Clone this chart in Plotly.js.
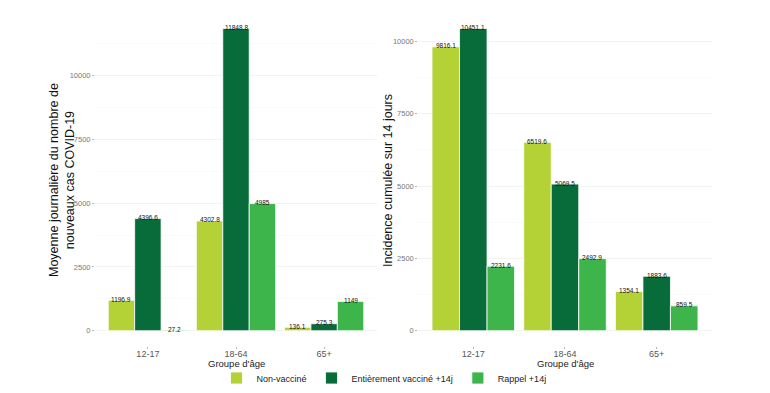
<!DOCTYPE html>
<html>
<head>
<meta charset="utf-8">
<script src="https://cdn.plot.ly/plotly-3.0.1.min.js"></script>
<style>html,body{margin:0;padding:0;background:#fff;}#chart{width:770px;height:393px;}</style>
</head>
<body>
<div id="chart"></div>
<script>
const categories = ['12-17', '18-64', '65+'];
const seriesNames = ['Non-vacciné', 'Entièrement vacciné +14j', 'Rappel +14j'];
const colors = ['#b4d236', '#076b3a', '#3db54a'];
const yTickVals = [0, 2500, 5000, 7500, 10000];
const yTickText = ['0', '2500', '5000', '7500', '10000'];

// Left panel: daily average of new COVID-19 cases
const moyNonVac = [1196.9, 4302.8, 136.1];
const moyVac = [4396.6, 11848.8, 275.3];
const moyRappel = [27.2, 4985, 1149];

// Right panel: 14-day cumulative incidence
const incNonVac = [9816.1, 6519.6, 1354.1];
const incVac = [10451.1, 5069.5, 1883.6];
const incRappel = [2231.6, 2492.9, 859.5];

const leftSeries = [moyNonVac, moyVac, moyRappel];
const rightSeries = [incNonVac, incVac, incRappel];

const FONT = 'Liberation Sans, Arial, sans-serif';
const traces = [];
const annotations = [];
const offsets = [-0.3, 0, 0.3];

function addPanel(series, xa, ya, showLegend) {
  series.forEach((vals, i) => {
    traces.push({
      type: 'bar', x: categories, y: vals, name: seriesNames[i],
      marker: {color: colors[i], line: {color: '#ffffff', width: 0.8}},
      xaxis: xa, yaxis: ya, showlegend: showLegend, legendgroup: 'g' + i,
      hoverinfo: 'y'
    });
    vals.forEach((v, j) => {
      annotations.push({
        xref: xa, yref: ya, x: j + offsets[i], y: v, text: String(v),
        showarrow: false, yanchor: 'middle', yshift: 1,
        font: {family: FONT, size: 6.5, color: '#111'}
      });
    });
  });
}
addPanel(leftSeries, 'x', 'y', true);
addPanel(rightSeries, 'x2', 'y2', false);

// axis titles
const titleFont = {family: FONT, size: 12.5, color: '#111'};
const xTitleFont = {family: FONT, size: 9.5, color: '#222'};
annotations.push({xref: 'paper', yref: 'paper', x: 62 / 770, y: 1 - 180 / 393, xanchor: 'center', yanchor: 'middle',
  text: 'Moyenne journalière du nombre de<br>nouveaux cas COVID-19', textangle: -90, showarrow: false, font: titleFont});
annotations.push({xref: 'paper', yref: 'paper', x: 388 / 770, y: 1 - 180 / 393, xanchor: 'center', yanchor: 'middle',
  text: 'Incidence cumulée sur 14 jours', textangle: -90, showarrow: false, font: titleFont});
annotations.push({xref: 'paper', yref: 'paper', x: 236 / 770, y: 1 - 363 / 393, xanchor: 'center', yanchor: 'middle',
  text: "Groupe d'âge", showarrow: false, font: xTitleFont});
annotations.push({xref: 'paper', yref: 'paper', x: 565 / 770, y: 1 - 363 / 393, xanchor: 'center', yanchor: 'middle',
  text: "Groupe d'âge", showarrow: false, font: xTitleFont});

const tickFont = {family: FONT, size: 7.5, color: '#777'};
const xTickFont = {family: FONT, size: 9, color: '#555'};

function xAxis(domain, anchor) {
  return {
    domain: domain, anchor: anchor, type: 'category', range: [-0.6, 2.6],
    showgrid: false, zeroline: false, showline: false,
    ticks: 'outside', ticklen: 2, tickcolor: '#999', tickwidth: 0.7,
    ticklabelstandoff: -3,
    tickfont: xTickFont, fixedrange: true
  };
}
function yAxis(domain, anchor, range) {
  return {
    domain: domain, anchor: anchor, range: range,
    tickmode: 'array', tickvals: yTickVals, ticktext: yTickText,
    showgrid: true, gridcolor: '#eeeeee', gridwidth: 0.7, zeroline: false, showline: false,
    minor: {showgrid: true, gridcolor: '#f6f6f6', gridwidth: 0.5, tickvals: [1250, 3750, 6250, 8750, 11250]},
    ticks: 'outside', ticklen: 2, tickcolor: '#999', tickwidth: 0.7,
    tickfont: tickFont, fixedrange: true
  };
}

const yDom = [0.12, 0.966];
const layout = {
  width: 770, height: 393,
  margin: {l: 0, r: 0, t: 0, b: 0},
  paper_bgcolor: '#ffffff', plot_bgcolor: '#ffffff',
  barmode: 'group', bargap: 0.1, bargroupgap: 0,
  font: {family: FONT},
  xaxis: xAxis([0.1234, 0.4896], 'y'),
  yaxis: yAxis(yDom, 'x', [-592, 12441]),
  xaxis2: xAxis([0.5432, 0.9243], 'y2'),
  yaxis2: yAxis(yDom, 'x2', [-523, 10974]),
  legend: {
    orientation: 'h', x: 384 / 770, xanchor: 'center', y: 1 - 378 / 393, yanchor: 'middle',
    font: {family: FONT, size: 9, color: '#222'},
    itemwidth: 30, traceorder: 'normal'
  },
  annotations: annotations,
  showlegend: true
};

Plotly.newPlot('chart', traces, layout, {displayModeBar: false, staticPlot: true});
</script>
</body>
</html>
